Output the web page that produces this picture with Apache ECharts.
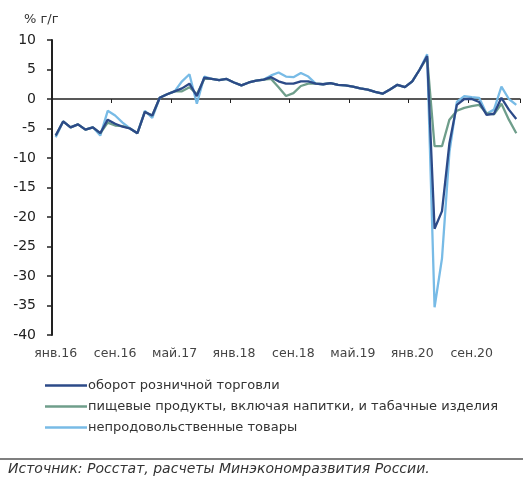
<!DOCTYPE html>
<html>
<head>
<meta charset="utf-8">
<script src="https://cdn.jsdelivr.net/npm/echarts@6/dist/echarts.min.js"></script>
<style>
  html, body { margin: 0; padding: 0; background: #fff; }
  #chart { width: 523px; height: 479px; }
</style>
</head>
<body>
<div id="chart"></div>
<script>
// Month abbreviations and years for the monthly axis (Jan 2016 – Mar 2021)
const monthNames = ['янв', 'фев', 'мар', 'апр', 'май', 'июн', 'июл', 'авг', 'сен', 'окт', 'ноя', 'дек'];
const years = ['16', '17', '18', '19', '20', '21'];
const monthCount = 63;

// Retail turnover, % y/y
const retailTotal = [
  -6.2, -3.8, -4.8, -4.3, -5.2, -4.8, -5.8, -3.5, -4.2, -4.7, -5.0, -5.8,
  -2.2, -2.8, 0.2, 0.8, 1.3, 1.8, 2.6, 0.5, 3.6, 3.4, 3.2, 3.4,
  2.8, 2.3, 2.8, 3.1, 3.3, 3.7, 3.0, 2.6, 2.6, 3.0, 3.0, 2.6,
  2.5, 2.7, 2.4, 2.3, 2.1, 1.8, 1.6, 1.2, 0.9, 1.6, 2.4, 2.0,
  3.0, 5.0, 7.3, -22.0, -19.0, -7.5, -1.0, 0.0, 0.0, -0.5, -2.7, -2.5,
  0.2, -1.8, -3.4
];

// Food products, including beverages and tobacco, % y/y
const foodGoods = [
  -6.2, -3.8, -4.8, -4.3, -5.2, -4.8, -5.8, -4.0, -4.5, -4.6, -5.0, -5.8,
  -2.2, -2.8, 0.2, 0.8, 1.3, 1.3, 2.0, 0.8, 3.4, 3.4, 3.2, 3.4,
  2.8, 2.3, 2.8, 3.1, 3.3, 3.4, 2.0, 0.5, 1.0, 2.2, 2.6, 2.6,
  2.5, 2.7, 2.4, 2.3, 2.1, 1.8, 1.6, 1.2, 0.9, 1.6, 2.4, 2.0,
  3.0, 5.0, 7.0, -8.0, -8.0, -3.5, -2.0, -1.5, -1.2, -1.0, -2.4, -2.6,
  -0.8, -3.5, -5.8
];

// Non-food goods, % y/y
const nonFoodGoods = [
  -6.5, -3.8, -4.8, -4.3, -5.2, -4.8, -6.2, -2.0, -2.8, -4.0, -5.0, -5.8,
  -2.0, -3.2, 0.2, 0.8, 1.3, 3.0, 4.2, -0.8, 3.8, 3.4, 3.2, 3.4,
  2.8, 2.3, 2.8, 3.1, 3.3, 4.0, 4.5, 3.8, 3.7, 4.4, 3.8, 2.6,
  2.5, 2.7, 2.4, 2.3, 2.1, 1.8, 1.6, 1.2, 0.9, 1.6, 2.4, 2.0,
  3.0, 5.0, 7.6, -35.3, -27.0, -9.0, -0.5, 0.5, 0.3, 0.2, -2.5, -1.8,
  2.1, 0.0, -1.0
];

const seriesNames = [
  'оборот розничной торговли',
  'пищевые продукты, включая напитки, и табачные изделия',
  'непродовольственные товары'
];
const seriesColors = ['#2c4a88', '#6f9e8b', '#78bbe6'];

const categories = [];
for (let i = 0; i < monthCount; i++) {
  categories.push(monthNames[i % 12] + '.' + years[Math.floor(i / 12)]);
}

const chart = echarts.init(document.getElementById('chart'));
const font = '"DejaVu Sans", Arial, sans-serif';

function lineSeries(name, data, color) {
  return {
    name: name,
    type: 'line',
    data: data,
    xAxisIndex: 0,
    yAxisIndex: 0,
    symbol: 'none',
    lineStyle: { color: color, width: 2.3 },
    itemStyle: { color: color },
    animation: false
  };
}

chart.setOption({
  backgroundColor: '#ffffff',
  animation: false,
  grid: { left: 52, right: 3, top: 40, bottom: 144, containLabel: false },
  xAxis: [
    {
      type: 'category',
      data: categories,
      boundaryGap: true,
      axisLine: { onZero: true, lineStyle: { color: '#222', width: 1.5 } },
      axisTick: { show: true, interval: 7, length: 4, inside: false, lineStyle: { color: '#222' } },
      axisLabel: { show: false },
      splitLine: { show: false }
    },
    {
      type: 'category',
      data: categories,
      boundaryGap: true,
      position: 'bottom',
      axisLine: { show: false, onZero: false },
      axisTick: { show: false },
      axisLabel: {
        show: true, interval: 7, margin: 12,
        color: '#444', fontSize: 12.5, fontFamily: font
      },
      splitLine: { show: false }
    }
  ],
  yAxis: {
    type: 'value',
    min: -40,
    max: 10,
    interval: 5,
    axisLine: { show: true, lineStyle: { color: '#222', width: 2 } },
    axisTick: { show: true, length: 5, lineStyle: { color: '#222', width: 1.5 } },
    axisLabel: { color: '#222', fontSize: 14, fontFamily: font, margin: 16 },
    splitLine: { show: false }
  },
  legend: {
    orient: 'vertical',
    left: 40,
    top: 374,
    icon: 'rect',
    itemWidth: 42,
    itemHeight: 2.5,
    itemGap: 8,
    data: seriesNames,
    textStyle: { color: '#333', fontSize: 13, fontFamily: font, padding: [0, 0, 0, -4] }
  },
  graphic: [
    {
      type: 'text', left: 24, top: 13,
      style: { text: '% г/г', fill: '#333', font: '13px ' + font }
    },
    {
      type: 'line',
      shape: { x1: 0, y1: 459, x2: 523, y2: 459 },
      style: { stroke: '#555', lineWidth: 1.5 }
    },
    {
      type: 'text', left: 8, top: 462,
      style: { text: 'Источник: Росстат, расчеты Минэкономразвития России.', fill: '#333', font: 'italic 14px ' + font }
    }
  ],
  series: [
    lineSeries(seriesNames[2], nonFoodGoods, seriesColors[2]),
    lineSeries(seriesNames[1], foodGoods, seriesColors[1]),
    lineSeries(seriesNames[0], retailTotal, seriesColors[0])
  ]
});
</script>
</body>
</html>
